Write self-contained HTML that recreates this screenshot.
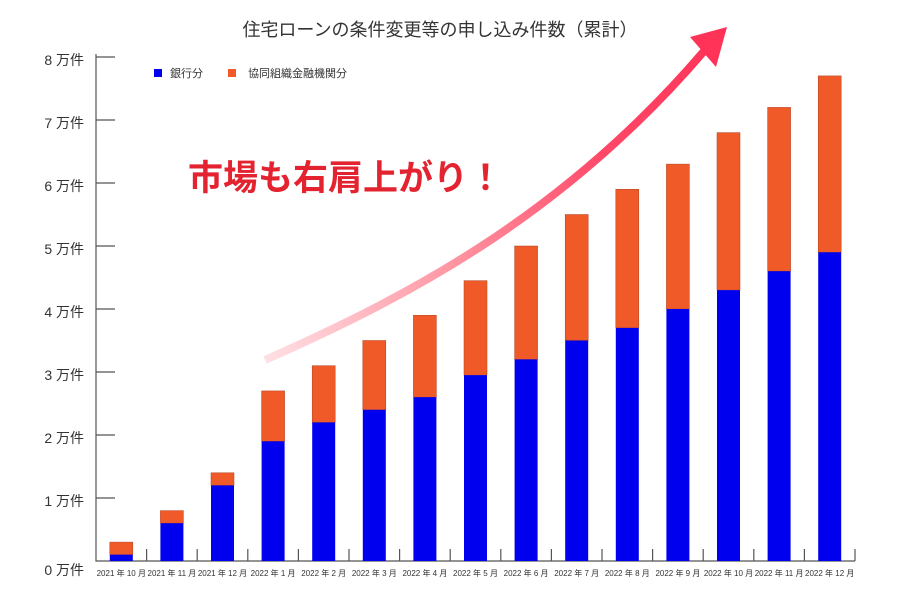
<!DOCTYPE html><html><head><meta charset="utf-8"><style>body{margin:0;background:#fff}svg{display:block}text{font-family:"Liberation Sans","Noto Sans CJK JP",sans-serif}</style></head><body>
<svg width="900" height="600" viewBox="0 0 900 600">
<defs><linearGradient id="g" x1="265" y1="360" x2="720" y2="30" gradientUnits="userSpaceOnUse"><stop offset="0" stop-color="#ffe0e4"/><stop offset="0.35" stop-color="#ff9aa6"/><stop offset="0.7" stop-color="#ff4868"/><stop offset="1" stop-color="#ff3358"/></linearGradient></defs>
<text x="440" y="36" font-size="18" text-anchor="middle" fill="#333">住宅ローンの条件変更等の申し込み件数（累計）</text>
<g stroke="#555" stroke-width="1.2" fill="none">
<path d="M96 54V561H855"/>
</g>
<rect x="154" y="69" width="8" height="8" fill="#0000ee"/><text x="170" y="77" font-size="11" fill="#333">銀行分</text>
<rect x="228" y="69" width="8" height="8" fill="#f05a28"/><text x="248" y="77" font-size="11" fill="#333">協同組織金融機関分</text>
<path d="M265 360 C400 300 560 220 705 50" stroke="url(#g)" stroke-width="8" fill="none"/>
<polygon points="727,27 690,37 716,67" fill="#ff3358"/>
<text x="188" y="190" font-size="35" font-weight="bold" fill="#e32430">市場も右肩上がり！</text>
</svg>
<script>
var s=document.querySelector('svg'),ns='http://www.w3.org/2000/svg';
function el(t,a,x){var e=document.createElementNS(ns,t);for(var k in a)e.setAttribute(k,a[k]);if(x)e.textContent=x;s.appendChild(e);return e;}
var Y=v=>561-63*v;
for(var i=0;i<=8;i++){el('text',{x:84,y:Y(i)+(i==0?14:8),'font-size':14,fill:'#333','text-anchor':'end'},i+' 万件');if(i>0)el('line',{x1:96,x2:115,y1:Y(i),y2:Y(i),stroke:'#555','stroke-width':1.2});}
var b=[0.1,0.6,1.2,1.9,2.2,2.4,2.6,2.95,3.2,3.5,3.7,4.0,4.3,4.6,4.9],t=[0.3,0.8,1.4,2.7,3.1,3.5,3.9,4.45,5.0,5.5,5.9,6.3,6.8,7.2,7.7];
var lab=['2021 年 10 月','2021 年 11 月','2021 年 12 月'];for(var m=1;m<=12;m++)lab.push('2022 年 '+m+' 月');
var w=50.6;
for(var i=0;i<15;i++){var c=96+w*(i+0.5);
el('rect',{x:c-11.5,y:Y(t[i]),width:23,height:Y(b[i])-Y(t[i]),fill:'#f05a28',stroke:'#b04020','stroke-width':0.5});
el('rect',{x:c-11.5,y:Y(b[i]),width:23,height:561-Y(b[i]),fill:'#0000ee'});
el('line',{x1:96+w*(i+1),x2:96+w*(i+1),y1:549,y2:561,stroke:'#555','stroke-width':1.2});
el('text',{x:c,y:576,'font-size':8,fill:'#333','text-anchor':'middle'},lab[i]);}
</script></body></html>
